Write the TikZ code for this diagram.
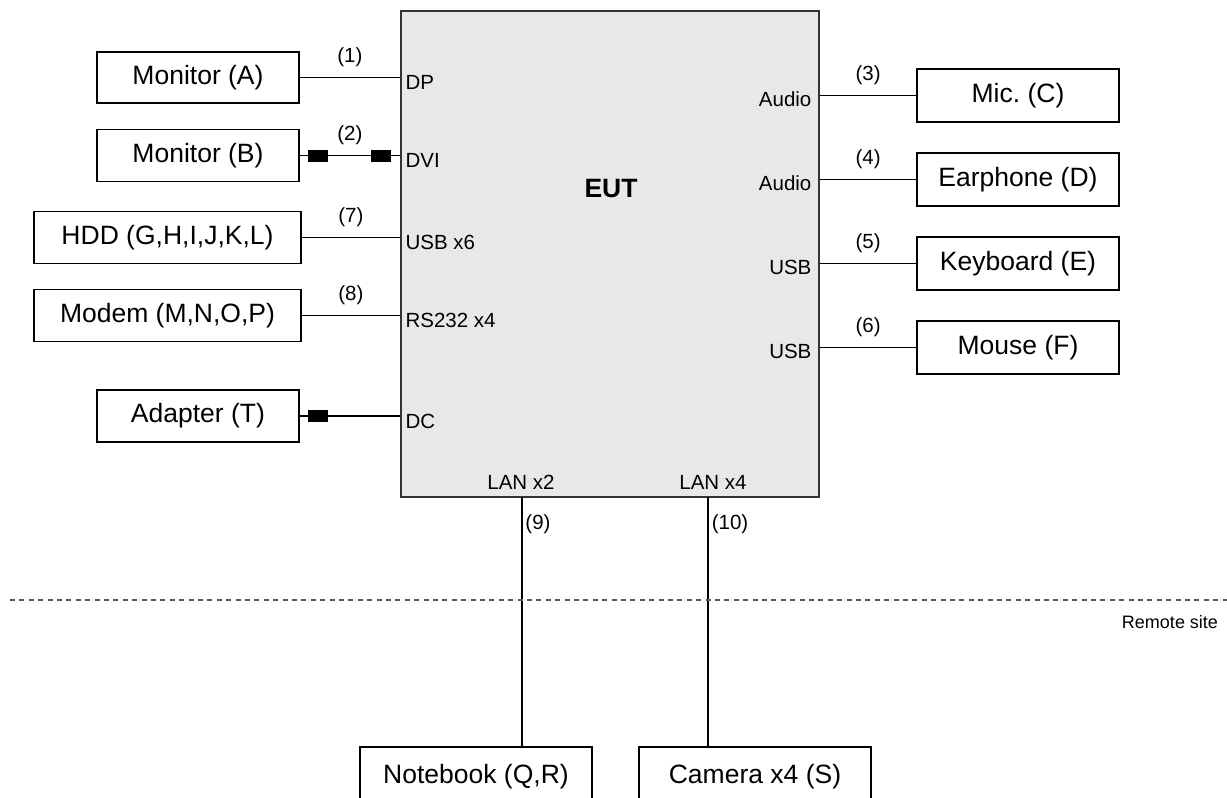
\documentclass[tikz,border=0pt]{standalone}
\usepackage{fontspec}
\setmainfont{Liberation Sans}
\begin{document}
\begin{tikzpicture}[x=0.5pt,y=-0.5pt,
  box/.style={draw, line width=0.6pt, fill=white, inner sep=0pt, font=\fontsize{13.25}{15}\selectfont},
  eutbox/.style={draw=black!80, line width=0.8pt, fill=black!9, inner sep=0pt},
  port/.style={inner sep=0pt, font=\fontsize{10.25}{12}\selectfont},
  cab/.style={line width=0.55pt},
  ferrite/.style={fill=black, draw=none, minimum width=10pt, minimum height=6pt, inner sep=0pt},
  sep/.style={dashed, dash pattern=on 2.5pt off 2.2pt, line width=0.65pt, draw=black!65}]
\useasboundingbox (0,0) rectangle (1227,798);
% EUT
\node[eutbox, minimum width=209pt, minimum height=243pt] (eut) at (610,254) {};
\node[font=\bfseries\fontsize{13.25}{15}\selectfont] (euttxt) at (611,189) {EUT};
% left devices
\node[box, minimum width=101pt, minimum height=25.5pt] (ma) at (198,77.5) {Monitor (A)};
\node[box, minimum width=101pt, minimum height=26pt] (mb) at (198,155.5) {Monitor (B)};
\node[box, minimum width=133.5pt, minimum height=26pt] (hdd) at (167.5,237.5) {HDD (G,H,I,J,K,L)};
\node[box, minimum width=133.5pt, minimum height=26pt] (modem) at (167.5,315.5) {Modem (M,N,O,P)};
\node[box, minimum width=101pt, minimum height=26pt] (adp) at (198,416) {Adapter (T)};
% right devices
\node[box, minimum width=101pt, minimum height=26.5pt] (mic) at (1018,95.5) {Mic.\ (C)};
\node[box, minimum width=101pt, minimum height=26.5pt] (ear) at (1018,179.5) {Earphone (D)};
\node[box, minimum width=101pt, minimum height=26.5pt] (kb) at (1018,263.5) {Keyboard (E)};
\node[box, minimum width=101pt, minimum height=26.5pt] (mouse) at (1018,347.5) {Mouse (F)};
% bottom devices
\node[box, minimum width=116pt, minimum height=30pt] (nb) at (476,777) {Notebook (Q,R)};
\node[box, minimum width=116pt, minimum height=30pt] (cam) at (755,777) {Camera x4 (S)};
% left cables
\draw[cab] (ma.east) -- (ma.east -| eut.west) node[port, midway, above=5pt] {(1)};
\draw[cab] (mb.east) -- (mb.east -| eut.west) node[port, midway, above=5pt] {(2)};
\draw[cab] (hdd.east) -- (hdd.east -| eut.west) node[port, midway, above=5pt] {(7)};
\draw[cab] (modem.east) -- (modem.east -| eut.west) node[port, midway, above=5pt] {(8)};
\draw[cab] (adp.east) -- (adp.east -| eut.west);
\node[ferrite] (f1) at (318,155.5) {};
\node[ferrite] (f2) at (381,155.5) {};
\node[ferrite] (f3) at (318,416) {};
% right cables
\draw[cab] (mic.west) -- (mic.west -| eut.east) node[port, midway, above=5pt] {(3)};
\draw[cab] (ear.west) -- (ear.west -| eut.east) node[port, midway, above=5pt] {(4)};
\draw[cab] (kb.west) -- (kb.west -| eut.east) node[port, midway, above=5pt] {(5)};
\draw[cab] (mouse.west) -- (mouse.west -| eut.east) node[port, midway, above=5pt] {(6)};
% port labels
\node[port, anchor=west] (pdp) at ([xshift=2.5pt,yshift=-2.5pt]ma.east -| eut.west) {DP};
\node[port, anchor=west] (pdvi) at ([xshift=2.5pt,yshift=-2.5pt]mb.east -| eut.west) {DVI};
\node[port, anchor=west] (pusb6) at ([xshift=2.5pt,yshift=-2.5pt]hdd.east -| eut.west) {USB x6};
\node[port, anchor=west] (prs) at ([xshift=2.5pt,yshift=-2.5pt]modem.east -| eut.west) {RS232 x4};
\node[port, anchor=west] (pdc) at ([xshift=2.5pt,yshift=-2.5pt]adp.east -| eut.west) {DC};
\node[port, anchor=east] (pa1) at ([xshift=-4pt,yshift=-2pt]mic.west -| eut.east) {Audio};
\node[port, anchor=east] (pa2) at ([xshift=-4pt,yshift=-2pt]ear.west -| eut.east) {Audio};
\node[port, anchor=east] (pu1) at ([xshift=-4pt,yshift=-2pt]kb.west -| eut.east) {USB};
\node[port, anchor=east] (pu2) at ([xshift=-4pt,yshift=-2pt]mouse.west -| eut.east) {USB};
% bottom ports and cables
\node[port] (plan2) at (521,482) {LAN x2};
\node[port] (plan4) at (713,482) {LAN x4};
\coordinate (b9) at (522,497);
\coordinate (b10) at (708,497);
\draw[cab] (b9) -- (b9 |- nb.north);
\draw[cab] (b10) -- (b10 |- cam.north);
\node[port] (l9) at (538,524) {(9)};
\node[port] (l10) at (730,524) {(10)};
% remote site separator
\coordinate (s1) at (10,600);
\coordinate (s2) at (1227,600);
\draw[sep] (s1) -- (s2);
\node[port, font=\fontsize{9}{11}\selectfont] (rs) at (1170,622) {Remote site};
\end{tikzpicture}
\end{document}
